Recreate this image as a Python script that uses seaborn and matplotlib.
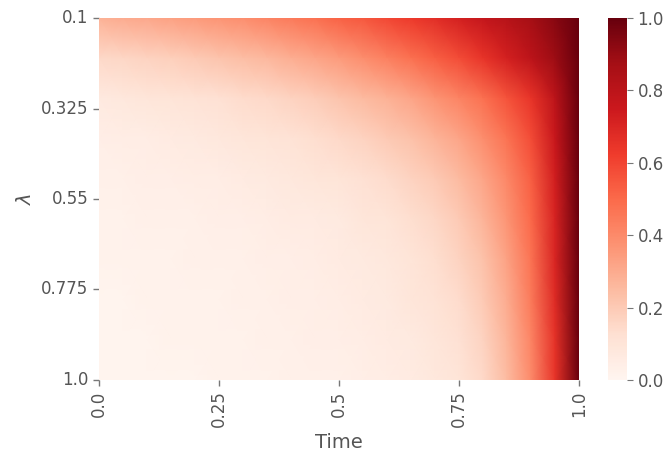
import numpy as np
import pandas as pd
import seaborn as sns
import matplotlib
matplotlib.use("Agg")
import matplotlib.pyplot as plt

# Time grid (columns) and lambda grid (rows)
times = [0.0, 0.05, 0.1, 0.15, 0.2, 0.25, 0.3, 0.35, 0.4, 0.45, 0.5,
         0.55, 0.6, 0.65, 0.7, 0.75, 0.8, 0.85, 0.9, 0.95, 1.0]
lambdas = [0.1, 0.2, 0.3, 0.4, 0.5, 0.6, 0.7, 0.8, 0.9, 1.0]

# Values, one list per lambda row
row_01 = [.28, .30, .31, .33, .35, .37, .39, .42, .45, .48, .52, .55, .59, .63, .67, .72, .77, .82, .87, .93, 1.0]
row_02 = [.15, .16, .17, .18, .20, .22, .24, .26, .29, .32, .35, .39, .43, .48, .53, .58, .65, .72, .80, .89, 1.0]
row_03 = [.07, .08, .09, .10, .11, .12, .14, .15, .17, .19, .22, .25, .28, .32, .37, .42, .48, .56, .65, .80, 1.0]
row_04 = [.04, .05, .05, .06, .07, .08, .09, .10, .11, .13, .15, .17, .20, .23, .27, .32, .39, .47, .58, .76, 1.0]
row_05 = [.03, .03, .04, .04, .05, .05, .06, .07, .08, .09, .10, .12, .14, .17, .20, .25, .32, .41, .53, .73, 1.0]
row_06 = [.02, .02, .03, .03, .03, .04, .04, .05, .06, .06, .07, .09, .10, .13, .16, .20, .27, .37, .50, .71, 1.0]
row_07 = [.02, .02, .02, .02, .03, .03, .03, .04, .04, .05, .06, .07, .08, .10, .13, .17, .23, .33, .47, .70, 1.0]
row_08 = [.01, .01, .02, .02, .02, .02, .03, .03, .04, .04, .05, .06, .07, .09, .11, .14, .20, .30, .45, .68, 1.0]
row_09 = [.01, .01, .01, .02, .02, .02, .02, .03, .03, .04, .04, .05, .06, .07, .09, .12, .17, .27, .42, .66, 1.0]
row_10 = [.01, .01, .01, .01, .01, .02, .02, .02, .03, .03, .03, .04, .05, .06, .08, .10, .15, .25, .40, .65, 1.0]

xtick_labels = ["0.0", "0.25", "0.5", "0.75", "1.0"]
ytick_labels = ["0.1", "0.325", "0.55", "0.775", "1.0"]

df = pd.DataFrame([row_01, row_02, row_03, row_04, row_05, row_06, row_07,
                   row_08, row_09, row_10], index=lambdas, columns=times)

sns.set_style("ticks")
plt.rcParams["font.family"] = ["DejaVu Sans"]
grey = "#555555"
plt.rcParams.update({"text.color": grey, "axes.labelcolor": grey,
                     "xtick.color": grey, "ytick.color": grey,
                     "xtick.labelcolor": grey, "ytick.labelcolor": grey})

fig = plt.figure(figsize=(6.66, 4.57), dpi=100)
ax = fig.add_axes([0.1486, 0.1685, 0.7207, 0.7921])
cax = fig.add_axes([0.913, 0.1685, 0.0285, 0.7921])

sns.heatmap(df, cmap="Reds", vmin=0, vmax=1, ax=ax, cbar_ax=cax,
            shading="gouraud", rasterized=True)

nr, nc = df.shape
ax.set_xlim(0, nc - 1)
ax.set_ylim(nr - 1, 0)
ax.set_xticks(np.linspace(0, nc - 1, len(xtick_labels)))
ax.set_xticklabels(xtick_labels, rotation=90, fontsize=12)
ax.set_yticks(np.linspace(0, nr - 1, len(ytick_labels)))
ax.set_yticklabels(ytick_labels, rotation=0, fontsize=12)
ax.tick_params(length=4, width=1, color="#777777")
ax.set_xlabel("Time", fontsize=14)
ax.set_ylabel(r"$\lambda$", fontsize=14)

cax.tick_params(labelsize=12, length=4, color="#777777")
cax.set_yticks([0.0, 0.2, 0.4, 0.6, 0.8, 1.0])
cax.set_yticklabels(["0.0", "0.2", "0.4", "0.6", "0.8", "1.0"])
for s in cax.spines.values():
    s.set_visible(False)

fig.savefig("out.png", dpi=100)
